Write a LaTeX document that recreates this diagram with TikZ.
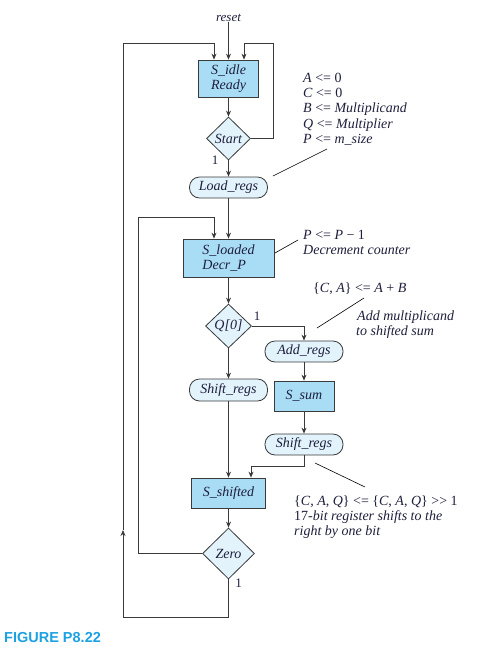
\documentclass[tikz,border=0pt]{standalone}
\usepackage{fontspec}
\setmainfont{Liberation Serif}
\newfontfamily\figfont{Liberation Sans}
\usetikzlibrary{shapes.geometric,arrows.meta}
\definecolor{linec}{HTML}{3A3A3A}
\definecolor{boxfill}{HTML}{A9DDF6}
\definecolor{lightfill}{HTML}{E2F3FC}
\definecolor{txtc}{HTML}{1E1E3C}
\definecolor{figblue}{HTML}{1DA1E2}
\newcommand{\ru}[1]{{\upshape #1}}
\tikzset{
  line/.style={draw=linec, line width=0.8pt},
  arr/.style={line, -{Stealth[length=6pt,width=5pt]}},
  nfont/.style={font=\fontsize{14}{15.5}\selectfont\itshape, text=txtc},
  statebox/.style={nfont, rectangle, draw=linec, fill=boxfill, line width=0.8pt, align=left, inner sep=0pt},
  cond/.style={nfont, diamond, draw=linec, fill=lightfill, line width=0.8pt, inner sep=0pt},
  act/.style={nfont, rectangle, rounded corners=10pt, draw=linec, fill=lightfill, line width=0.8pt, inner sep=0pt, minimum width=78pt, minimum height=21pt},
  anno/.style={nfont, anchor=base west, inner sep=0pt},
  one/.style={font=\fontsize{13}{15}\selectfont, text=txtc, inner sep=0pt},
  annoline/.style={draw=black, line width=0.6pt},
}
\begin{document}
\begin{tikzpicture}[x=1pt,y=-1pt]
\useasboundingbox (0,0) rectangle (493,649);

% nodes
\node[nfont, inner sep=0pt, font=\fontsize{13}{15}\selectfont\itshape] (reset) at (228.5,18) {reset};
\node[statebox, minimum width=60pt, minimum height=37pt] (sidle) at (228.5,78.5) {S\_idle\\Ready};
\node[cond, minimum width=44pt, minimum height=43pt] (start) at (228.5,138.5) {Start};
\node[act] (load) at (228.5,187.5) {Load\_regs};
\node[statebox, minimum width=91pt, minimum height=38pt] (sloaded) at (228.5,258) {S\_loaded\\Decr\_P};
\node[cond, minimum width=46pt, minimum height=44pt] (q0) at (228.5,326) {Q[0]};
\node[act] (addregs) at (304,351.5) {Add\_regs};
\node[statebox, minimum width=60pt, minimum height=30pt, align=center] (ssum) at (304,396) {S\_sum};
\node[act] (shiftR) at (304,444.5) {Shift\_regs};
\node[act, minimum height=22pt] (shiftL) at (228.5,390) {Shift\_regs};
\node[statebox, minimum width=74pt, minimum height=30pt, align=center] (sshift) at (228.5,493) {S\_shifted};
\node[cond, minimum width=52pt, minimum height=51pt] (zero) at (228.5,553.5) {Zero};

% labels "1"
\node[one] (l1) at (215,160) {1};
\node[one] (l2) at (257,316) {1};
\node[one] (l3) at (238.5,583) {1};

% connectors
\draw[arr] (reset.south) -- (sidle.north);
\draw[arr] (sidle.south) -- (start.north);
\coordinate (r1) at (273,43);
\draw[arr] (start.east) -| (r1) -| ([xshift=15.5pt]sidle.north);
\draw[arr] (start.south) -- (load.north);
\draw[arr] (load.south) -- (sloaded.north);
\draw[arr] (sloaded.south) -- (q0.north);
\draw[arr] (q0.east) -| (addregs.north);
\draw[arr] (q0.south) -- (shiftL.north);
\draw[arr] (addregs.south) -- (ssum.north);
\draw[arr] (ssum.south) -- (shiftR.north);
\draw[arr] (shiftL.south) -- (sshift.north);
\draw[arr] (shiftR.south) -- ++(0,10.5) -| ([xshift=22.5pt]sshift.north);
\draw[arr] (sshift.south) -- (zero.north);
\coordinate (b1) at (138,217);
\draw[arr] (zero.west) -| (b1) -| ([xshift=-14.5pt]sloaded.north);
\coordinate (c1) at (123,617);
\coordinate (c2) at (123,530);
\coordinate (c3) at (123,43);
\draw[arr] (zero.south) |- (c1) -- (c2);
\draw[arr] (c2) -- (c3) -| ([xshift=-14.5pt]sidle.north);

% annotations
\node[anno] (t1) at (303,82) {A \ru{<= 0}};
\node[anno] (t2) at (303,97.5) {C \ru{<= 0}};
\node[anno] (t3) at (303,112.5) {B \ru{<=} Multiplicand};
\node[anno] (t4) at (303,128) {Q \ru{<=} Multiplier};
\node[anno] (t5) at (303,143) {P \ru{<=} m\_size};
\coordinate (p1) at (273,176);
\coordinate (p2) at (327,149);
\draw[annoline] (p1) -- (p2);

\node[anno] (t6) at (303,239.5) {P \ru{<=} P \ru{− 1}};
\node[anno] (t7) at (303,254) {Decrement counter};
\coordinate (p3) at (275,253);
\coordinate (p4) at (298,240);
\draw[annoline] (p3) -- (p4);

\node[anno] (t8) at (313,292) {\ru{\{}C\ru{,} A\ru{\} <=} A \ru{+} B};
\node[anno] (t9) at (357,320) {Add multiplicand};
\node[anno] (t10) at (356,335) {to shifted sum};
\coordinate (p5) at (317,328);
\coordinate (p6) at (364,298);
\draw[annoline] (p5) -- (p6);

\node[anno] (t11) at (294,505.5) {\ru{\{}C\ru{,} A\ru{,} Q\ru{\} <= \{}C\ru{,} A\ru{,} Q\ru{\} >{}> 1}};
\node[anno] (t12) at (294,520) {\ru{17}-bit register shifts to the};
\node[anno] (t13) at (294,535) {right by one bit};
\coordinate (p7) at (315,463);
\coordinate (p8) at (365,487);
\draw[annoline] (p7) -- (p8);

\node[anchor=base west, inner sep=0pt, text=figblue, font=\figfont\bfseries\fontsize{14.5}{16}\selectfont] (fig) at (4,642) {FIGURE P8.22};
\end{tikzpicture}
\end{document}
